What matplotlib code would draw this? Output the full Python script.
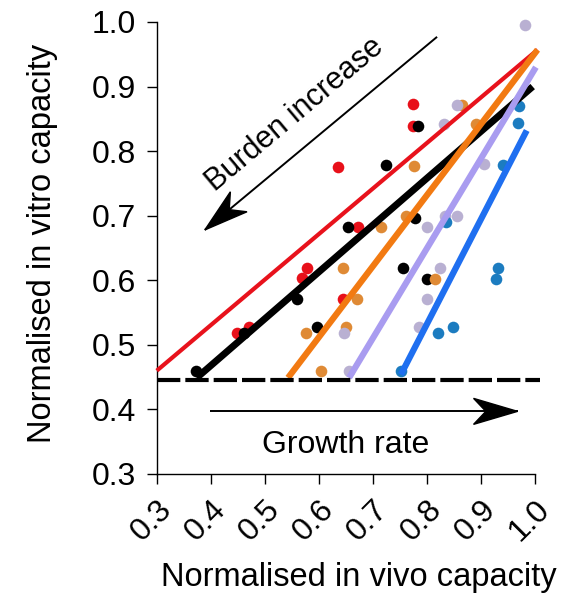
import matplotlib

matplotlib.use("Agg")
import matplotlib.pyplot as plt
import numpy as np
from matplotlib.patches import Polygon
from matplotlib.transforms import IdentityTransform

plt.rcParams["font.family"] = ["Liberation Sans", "DejaVu Sans"]

# ---------------------------------------------------------------------------
# Data
# ---------------------------------------------------------------------------

red_x = [0.774, 0.774, 0.635, 0.579, 0.569, 0.673, 0.644, 0.449, 0.470]
red_y = [0.873, 0.839, 0.776, 0.619, 0.604, 0.683, 0.571, 0.519, 0.528]

black_x = [0.783, 0.724, 0.654, 0.559, 0.596, 0.461, 0.373, 0.756, 0.801, 0.779]
black_y = [0.839, 0.779, 0.683, 0.571, 0.528, 0.519, 0.460, 0.619, 0.602, 0.697]

orange_x = [0.776, 0.892, 0.866, 0.716, 0.762, 0.644, 0.671, 0.577, 0.651, 0.605, 0.815]
orange_y = [0.777, 0.842, 0.871, 0.683, 0.699, 0.619, 0.571, 0.518, 0.528, 0.460, 0.602]

purple_x = [0.981, 0.855, 0.831, 0.801, 0.833, 0.855, 0.824, 0.801, 0.786, 0.646, 0.656, 0.905]
purple_y = [0.995, 0.871, 0.842, 0.683, 0.699, 0.699, 0.619, 0.571, 0.528, 0.518, 0.460, 0.780]

blue_x = [0.932, 0.929, 0.821, 0.848, 0.753, 0.969, 0.941, 0.835, 0.970]
blue_y = [0.619, 0.602, 0.518, 0.528, 0.460, 0.843, 0.779, 0.690, 0.870]

# fitted lines: (x start, x end, y start, y end)
red_fit = (0.300, 1.005, 0.460, 0.957)
black_fit = (0.374, 0.996, 0.449, 0.900)
orange_fit = (0.543, 1.005, 0.449, 0.957)
purple_fit = (0.656, 1.002, 0.449, 0.930)
blue_fit = (0.752, 0.985, 0.454, 0.832)

threshold_y = 0.445

# annotation arrows: (tail x, tail y, tip x, tip y)
burden_arrow = (0.819, 0.977, 0.389, 0.678)
growth_arrow = (0.398, 0.397, 0.968, 0.397)

x_ticks = [0.3, 0.4, 0.5, 0.6, 0.7, 0.8, 0.9, 1.0]
y_ticks = [0.3, 0.4, 0.5, 0.6, 0.7, 0.8, 0.9, 1.0]

series = [
    (red_x, red_y, red_fit, "#e8101a", "#e8121c", 3.0),
    (black_x, black_y, black_fit, "#000000", "#000000", 5.0),
    (orange_x, orange_y, orange_fit, "#df8a35", "#f27a12", 4.5),
    (purple_x, purple_y, purple_fit, "#b9b0d2", "#a99cf0", 4.5),
    (blue_x, blue_y, blue_fit, "#1c7cc0", "#1f6ff0", 4.5),
]


def draw_arrow(ax, arrow, head_len=44, half_w=13, notch=0.72):
    """Thin line with a notched (barbed) arrow head, head sized in pixels."""
    x0, y0, x1, y1 = arrow
    p0 = ax.transData.transform((x0, y0))
    p1 = ax.transData.transform((x1, y1))
    d = (p1 - p0) / np.hypot(*(p1 - p0))
    n = np.array([-d[1], d[0]])
    base = p1 - d * head_len
    pts = [p1, base + n * half_w, p1 - d * head_len * notch, base - n * half_w]
    ax.plot([x0, x1], [y0, y1], color="black", lw=1.4, zorder=5,
            solid_capstyle="butt")
    ax.add_patch(Polygon(pts, closed=True, color="black", zorder=6,
                         transform=IdentityTransform(), clip_on=False))


# ---------------------------------------------------------------------------
# Plot
# ---------------------------------------------------------------------------

fig = plt.figure(figsize=(5.66, 5.96), dpi=100)
ax = fig.add_axes([0.277, 0.2047, 0.687, 0.7584])

ax.set_xlim(0.3, 1.02)
ax.set_ylim(0.3, 1.0)

for xs, ys, fit, pcol, lcol, lw in series:
    ax.scatter(xs, ys, s=70, color=pcol, zorder=2, clip_on=False, linewidths=0)
    ax.plot([fit[0], fit[1]], [fit[2], fit[3]], color=lcol, lw=lw,
            solid_capstyle="butt", zorder=3, clip_on=False)

ax.plot([0.3, 1.01], [threshold_y, threshold_y], color="black", lw=3.0,
        dashes=(5.6, 1.2), zorder=4, clip_on=False)

draw_arrow(ax, burden_arrow)
ax.text(0.556, 0.856, "Burden increase", rotation=40, fontsize=22,
        ha="center", va="center", rotation_mode="anchor")

draw_arrow(ax, growth_arrow)
ax.text(0.65, 0.345, "Growth rate", fontsize=23, ha="center", va="center")

ax.set_xticks(x_ticks)
ax.set_yticks(y_ticks)
ax.set_xticklabels([f"{v:.1f}" for v in x_ticks], rotation=45, ha="right",
                   va="top", rotation_mode="anchor", fontsize=23)
ax.set_yticklabels([f"{v:.1f}" for v in y_ticks], fontsize=23)
ax.tick_params(axis="y", direction="out", length=7, width=1.0, pad=8)
ax.tick_params(axis="x", direction="out", length=7, width=1.0, pad=8)

for side in ("top", "right"):
    ax.spines[side].set_visible(False)
ax.spines["bottom"].set_bounds(0.3, 1.0)
ax.spines["left"].set_bounds(0.3, 1.0)
ax.spines["bottom"].set_linewidth(1.0)
ax.spines["left"].set_linewidth(1.0)

ax.set_xlabel("Normalised in vivo capacity", fontsize=23.5)
ax.xaxis.set_label_coords(0.52, -0.195)
ax.set_ylabel("Normalised in vitro capacity", fontsize=23.5)
ax.yaxis.set_label_coords(-0.255, 0.511)

fig.savefig("out.png", dpi=100)
